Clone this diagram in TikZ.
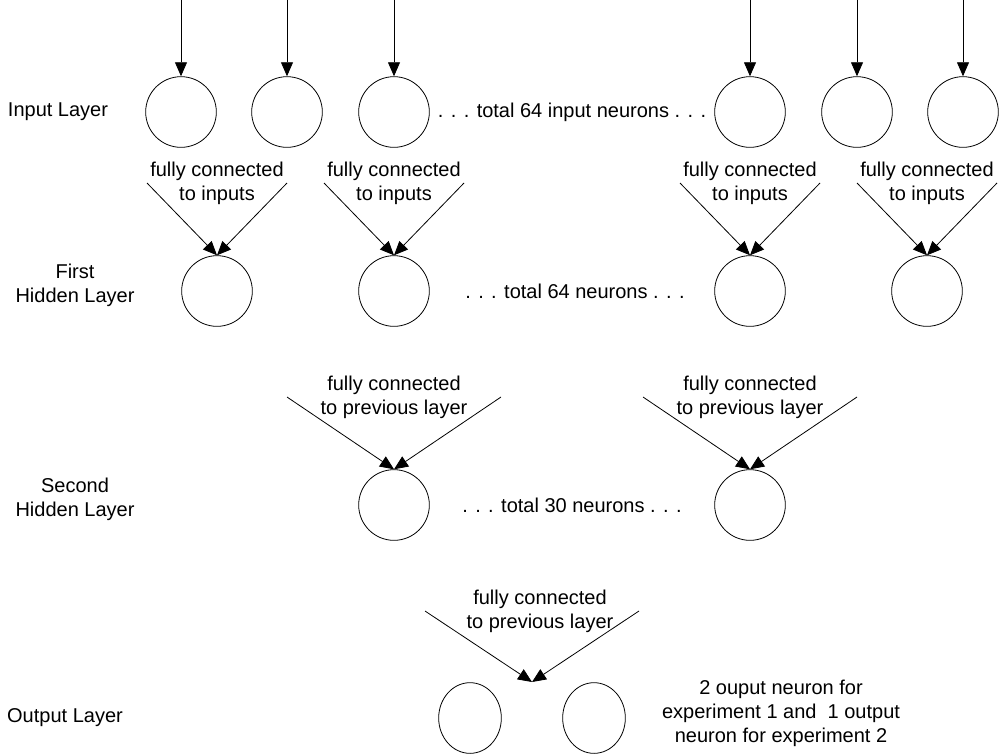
\documentclass[tikz,border=0pt]{standalone}
\usepackage{fontspec}
\setmainfont{Liberation Sans}
\usetikzlibrary{arrows.meta,shapes.geometric}
\begin{document}
\begin{tikzpicture}[x=0.75pt, y=-0.75pt,
    every node/.style={font=\fontsize{15}{18}\selectfont},
    neuron/.style={draw=black, circle, minimum size=53pt, inner sep=0pt, line width=0.6pt},
    outneuron/.style={draw=black, ellipse, minimum width=47pt, minimum height=53pt, inner sep=0pt, line width=0.6pt},
    label/.style={align=center},
    conn/.style={-{Triangle[length=10.5pt, width=9pt]}, line width=0.6pt}]
    \useasboundingbox (0,0) rectangle (1002,754);

    % input layer
    \node [label] (inlabel) at (58,112) {Input Layer};
    \foreach \x [count=\i] in {181,287,394,750,857,963} {
        \node [neuron] (in\i) at (\x,112) {};
        \coordinate (top\i) at (\x,0);
        \draw [conn] (top\i) -- (in\i.north);
    }
    \node [label] (intotal) at (572,112) {. . . total 64 input neurons . . .};

    % first hidden layer
    \node [label] (hAlabel) at (75,285) {First\\Hidden Layer};
    \foreach \x [count=\i] in {217,394,750,927} {
        \node [neuron] (hA\i) at (\x,291) {};
        \node [label] (fcA\i) at (\x,183) {fully connected\\to inputs};
        \coordinate (lA\i) at (\x-70,183);
        \coordinate (rA\i) at (\x+70,183);
        \draw [conn] (lA\i) -- (hA\i.north);
        \draw [conn] (rA\i) -- (hA\i.north);
    }
    \node [label] (hAtotal) at (575,291) {. . . total 64 neurons . . .};

    % second hidden layer
    \node [label] (hBlabel) at (75,499) {Second\\Hidden Layer};
    \foreach \x [count=\i] in {394,750} {
        \node [neuron] (hB\i) at (\x,505) {};
        \node [label] (fcB\i) at (\x,397) {fully connected\\to previous layer};
        \coordinate (lB\i) at (\x-107,397);
        \coordinate (rB\i) at (\x+107,397);
        \draw [conn] (lB\i) -- (hB\i.north);
        \draw [conn] (rB\i) -- (hB\i.north);
    }
    \node [label] (hBtotal) at (572,505) {. . . total 30 neurons . . .};

    % output layer
    \node [label] (outlabel) at (65,718) {Output Layer};
    \node [outneuron] (out1) at (470,718) {};
    \node [outneuron] (out2) at (594,718) {};
    \coordinate (outtip) at (532,682);
    \node [label] (fcC) at (540,611) {fully connected\\to previous layer};
    \coordinate (lC) at (425,611);
    \coordinate (rC) at (639,611);
    \draw [conn] (lC) -- (outtip);
    \draw [conn] (rC) -- (outtip);
    \node [label] (outnote) at (781,713) {2 ouput neuron for\\experiment 1 and~ 1 output\\neuron for experiment 2};
\end{tikzpicture}
\end{document}
